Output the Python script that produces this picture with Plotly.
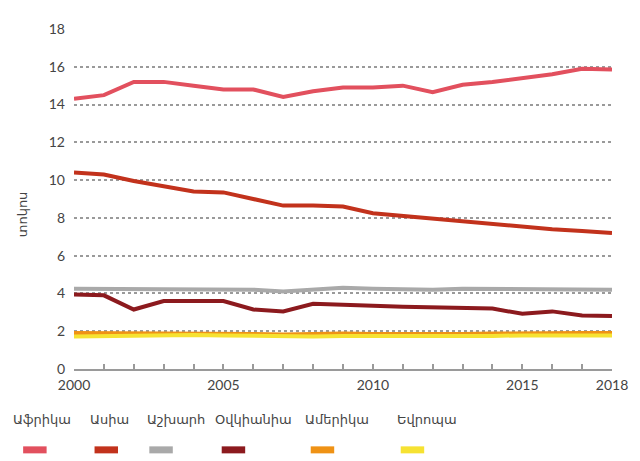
import plotly.graph_objects as go

years = list(range(2000, 2019))
regions = ["Աֆրիկա", "Ասիա", "Աշխարհ", "Օվկիանիա", "Ամերիկա", "Եվրոպա"]
africa = [14.3, 14.5, 15.2, 15.2, 15.0, 14.8, 14.8, 14.4, 14.7, 14.9, 14.9, 15.0, 14.65, 15.05, 15.2, 15.4, 15.6, 15.9, 15.85]
asia = [10.4, 10.3, 9.95, 9.7, 9.4, 9.35, 9.0, 8.65, 8.65, 8.6, 8.25, 8.1, 7.95, 7.83, 7.7, 7.55, 7.4, 7.3, 7.2]
world = [4.25, 4.25, 4.25, 4.25, 4.25, 4.2, 4.2, 4.1, 4.2, 4.3, 4.25, 4.2, 4.2, 4.25, 4.25, 4.25, 4.25, 4.2, 4.2]
oceania = [3.95, 3.9, 3.15, 3.6, 3.6, 3.6, 3.15, 3.05, 3.45, 3.38, 3.35, 3.3, 3.25, 3.2, 3.2, 2.92, 3.05, 2.83, 2.8]
america = [1.9, 1.9, 1.9, 1.9, 1.9, 1.88, 1.85, 1.82, 1.85, 1.88, 1.85, 1.85, 1.82, 1.85, 1.88, 1.9, 1.9, 1.9, 1.9]
europe = [1.72, 1.75, 1.78, 1.8, 1.8, 1.78, 1.75, 1.72, 1.72, 1.75, 1.75, 1.75, 1.72, 1.75, 1.75, 1.78, 1.78, 1.78, 1.78]
series = [africa, asia, world, oceania, america, europe]
colors = ["#e2505e", "#c2321c", "#a9a9a9", "#8c1a1e", "#ef9215", "#f6e232"]
x_tick_vals = years
x_tick_text = ["2000", "", "", "", "", "2005", "", "", "", "", "2010", "", "", "", "", "2015", "", "", "2018"]
y_tick_vals = [0, 2, 4, 6, 8, 10, 12, 14, 16, 18]
y_title = "տոկոս"

# legend layout (screen pixel positions)
legend_text_x = [10, 88, 147, 216, 308, 402]
legend_swatch_x = [19, 92, 148, 222, 313, 405]

OFF = 8  # page body margin
W, H = 640 - OFF, 461 - OFF
# desired plot area in screen pixels: x 74..624, y 20..369
L, T = 74 - OFF, 20 - OFF
R = W - (624 - OFF)
B = H - (369 - OFF)
pw = W - L - R
ph = H - T - B

def sx(px):
    return (px - OFF - L) / pw

def sy(py):
    return (H - B - (py - OFF)) / ph

fig = go.Figure()
for name, vals, col in zip(regions, series, colors):
    fig.add_trace(go.Scatter(x=years, y=vals, name=name, mode="lines",
                             line=dict(color=col, width=4), showlegend=False))

for name, col, tx, swx in zip(regions, colors, legend_text_x, legend_swatch_x):
    fig.add_annotation(x=sx(tx), y=sy(421), xref="paper", yref="paper",
                       text=name, showarrow=False, xanchor="left", yanchor="middle",
                       font=dict(family="DejaVu Sans", size=13, color="#444"))
    fig.add_shape(type="line", xref="paper", yref="paper",
                  x0=sx(swx + 3), x1=sx(swx + 27),
                  y0=sy(452), y1=sy(452),
                  line=dict(color=col, width=7))

fig.add_annotation(x=sx(21), y=sy(210), xref="paper", yref="paper",
                   text=y_title, showarrow=False, textangle=-90,
                   xanchor="center", yanchor="middle",
                   font=dict(family="DejaVu Sans", size=13, color="#444"))

fig.update_layout(
    width=W, height=H,
    margin=dict(l=L, r=R, t=T, b=B),
    paper_bgcolor="white", plot_bgcolor="white",
    font=dict(family="Lato", size=14, color="#444"),
)
fig.update_xaxes(range=[2000, 2018], tickvals=x_tick_vals, ticktext=x_tick_text,
                 showgrid=False, showline=True, linecolor="#9a9a9a", linewidth=1.5,
                 ticks="inside", ticklen=5, tickcolor="#9a9a9a", tickwidth=1.5,
                 ticklabeloverflow="allow", ticklabelstandoff=2,
                 tickfont=dict(family="Lato", size=14, color="#444"), zeroline=False)
fig.update_yaxes(range=[0, 18], tickvals=y_tick_vals, showgrid=True, gridcolor="#9a9a9a",
                 griddash="dot", gridwidth=1.5, zeroline=False, showline=False,
                 ticks="", ticklabelstandoff=8,
                 tickfont=dict(family="Lato", size=14, color="#444"))

fig.write_html("out.html")
